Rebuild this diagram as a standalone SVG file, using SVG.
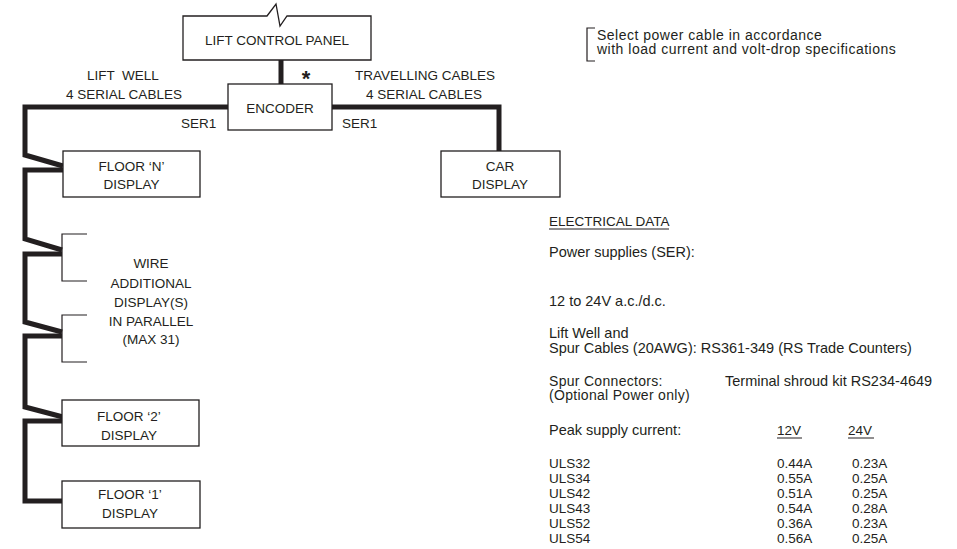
<svg xmlns="http://www.w3.org/2000/svg" width="957" height="549" viewBox="0 0 957 549">
<style>
text{font-family:"Liberation Sans",Arial,sans-serif;font-size:13.5px;fill:#231f20}
.c{text-anchor:middle}
.lc{font-size:14.5px}
.lc2{font-size:14px;letter-spacing:0.3px}
.note{font-size:14px;letter-spacing:0.5px}
.box{fill:#fff;stroke:#231f20;stroke-width:1.3}
.cable{fill:none;stroke:#231f20;stroke-width:5;stroke-linejoin:miter;stroke-linecap:butt}
.thin{fill:none;stroke:#231f20;stroke-width:1.2}
.ul{stroke:#231f20;stroke-width:1}
</style>
<rect width="957" height="549" fill="#fff"/>
<g id="connectors">
<path class="cable" d="M281,60 V84"/>
<path class="cable" d="M228,107 H25 V155 L63,166"/>
<path class="cable" d="M63,170 H25 V239 L62,250"/>
<path class="cable" d="M62,254 H25 V322 L62,332"/>
<path class="cable" d="M62,336 H25 V407 L63,417"/>
<path class="cable" d="M63,421 H25 V501 H62"/>
<path class="cable" d="M332,107 H499 V151"/>
</g>
<g id="lift-control-panel">
<path class="box" d="M183,16 H267 L276,4 L280,26 L287,16 H371 V60 H183 Z"/>
<text class="c" x="277" y="45">LIFT CONTROL PANEL</text>
</g>
<g id="asterisk"><text class="c" x="306" y="86" style="font-size:22px;font-weight:bold">*</text></g>
<g id="encoder">
<rect class="box" x="228" y="84" width="104" height="46"/>
<text class="c" x="280" y="113">ENCODER</text>
</g>
<g id="labels">
<text class="c" x="123" y="80" xml:space="preserve">LIFT  WELL</text>
<text class="c" x="124" y="99">4 SERIAL CABLES</text>
<text x="181" y="128">SER1</text>
<text x="342" y="128">SER1</text>
<text class="c" x="425" y="80">TRAVELLING CABLES</text>
<text class="c" x="424" y="99">4 SERIAL CABLES</text>
</g>
<g id="floor-n">
<rect class="box" x="63" y="151" width="137" height="46"/>
<text class="c" x="131.5" y="171">FLOOR ‘N’</text>
<text class="c" x="131.5" y="189">DISPLAY</text>
</g>
<g id="car-display">
<rect class="box" x="441" y="151" width="119" height="46"/>
<text class="c" x="500" y="171">CAR</text>
<text class="c" x="500" y="189">DISPLAY</text>
</g>
<g id="additional-displays">
<path class="thin" d="M87,234 H62 V281 H87"/>
<path class="thin" d="M87,315 H62 V362 H87"/>
<text class="c" x="151" y="268">WIRE</text>
<text class="c" x="151" y="288">ADDITIONAL</text>
<text class="c" x="151" y="307">DISPLAY(S)</text>
<text class="c" x="151" y="326">IN PARALLEL</text>
<text class="c" x="151" y="344">(MAX 31)</text>
</g>
<g id="floor-2">
<rect class="box" x="62" y="400" width="137" height="46"/>
<text class="c" x="129" y="421">FLOOR ‘2’</text>
<text class="c" x="129" y="440">DISPLAY</text>
</g>
<g id="floor-1">
<rect class="box" x="62" y="481" width="138" height="47"/>
<text class="c" x="130" y="499">FLOOR ‘1’</text>
<text class="c" x="130" y="518">DISPLAY</text>
</g>
<g id="note">
<path class="thin" d="M595,28 H587 V61 H595"/>
<text class="note" x="597" y="39.5">Select power cable in accordance</text>
<text class="note" x="597" y="54">with load current and volt-drop specifications</text>
</g>
<g id="electrical-data">
<text x="549" y="226">ELECTRICAL DATA</text>
<line class="ul" x1="549" y1="229" x2="669" y2="229"/>
<text class="lc" x="549" y="257">Power supplies (SER):</text>
<text class="lc" x="549" y="306">12 to 24V a.c./d.c.</text>
<text class="lc" x="549" y="338">Lift Well and</text>
<text class="lc" x="549" y="353">Spur Cables (20AWG): RS361-349 (RS Trade Counters)</text>
<text class="lc2" x="549" y="385.5">Spur Connectors:</text>
<text class="lc" x="725" y="385.5">Terminal shroud kit RS234-4649</text>
<text class="lc2" x="549" y="400">(Optional Power only)</text>
<text class="lc" x="549" y="435">Peak supply current:</text>
<text x="777" y="435">12V</text>
<line class="ul" x1="777" y1="438" x2="802" y2="438"/>
<text x="848" y="435">24V</text>
<line class="ul" x1="848" y1="438" x2="874" y2="438"/>
<text x="549" y="467.5">ULS32</text><text x="777" y="467.5">0.44A</text><text x="852" y="467.5">0.23A</text>
<text x="549" y="482.5">ULS34</text><text x="777" y="482.5">0.55A</text><text x="852" y="482.5">0.25A</text>
<text x="549" y="497.5">ULS42</text><text x="777" y="497.5">0.51A</text><text x="852" y="497.5">0.25A</text>
<text x="549" y="512.5">ULS43</text><text x="777" y="512.5">0.54A</text><text x="852" y="512.5">0.28A</text>
<text x="549" y="527.5">ULS52</text><text x="777" y="527.5">0.36A</text><text x="852" y="527.5">0.23A</text>
<text x="549" y="542.5">ULS54</text><text x="777" y="542.5">0.56A</text><text x="852" y="542.5">0.25A</text>
</g>
</svg>
